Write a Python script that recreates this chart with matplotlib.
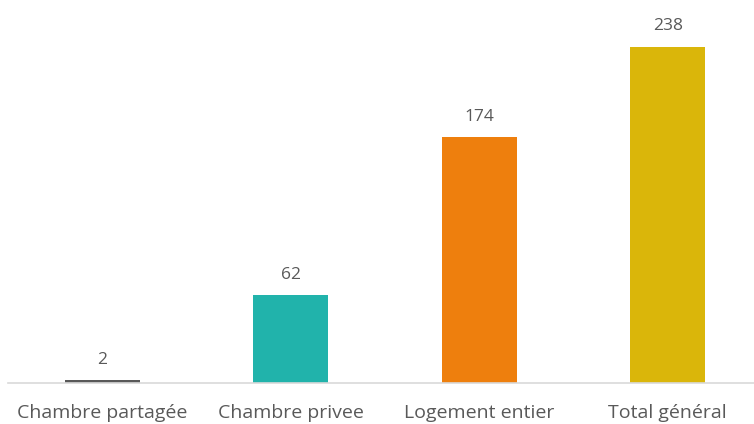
import matplotlib
matplotlib.use("Agg")
import matplotlib.pyplot as plt

categories = ["Chambre partagée", "Chambre privee", "Logement entier", "Total général"]
values = [2, 62, 174, 238]
colors = ["#595959", "#21b3ab", "#ee7f0d", "#dab60a"]

plt.rcParams['font.family'] = ['Open Sans', 'DejaVu Sans']

W, H = 754, 424
fig = plt.figure(figsize=(W / 100, H / 100), dpi=100)
x0, x1 = 8, 762
ybase = 383
ax = fig.add_axes([x0 / W, (H - ybase) / H, (x1 - x0) / W, ybase / H])
ax.set_xlim(-0.5, 3.5)
ax.set_ylim(0, 271.2)

xs = range(len(categories))
ax.bar(xs, values, width=0.4, color=colors, zorder=2)
for x, v in zip(xs, values):
    ax.annotate(str(v), (x, v), xytext=(0, 9), textcoords="offset points",
                ha="center", va="bottom", fontsize=12.5, color="#595959")

for s in ["top", "right", "left"]:
    ax.spines[s].set_visible(False)
ax.spines["bottom"].set_color("#d9d9d9")
ax.spines["bottom"].set_linewidth(1.2)
ax.set_yticks([])
ax.set_xticks(list(xs))
ax.set_xticklabels(categories, fontsize=14, color="#595959")
ax.tick_params(axis="x", length=0, pad=15)

fig.savefig("out.png", dpi=100)
